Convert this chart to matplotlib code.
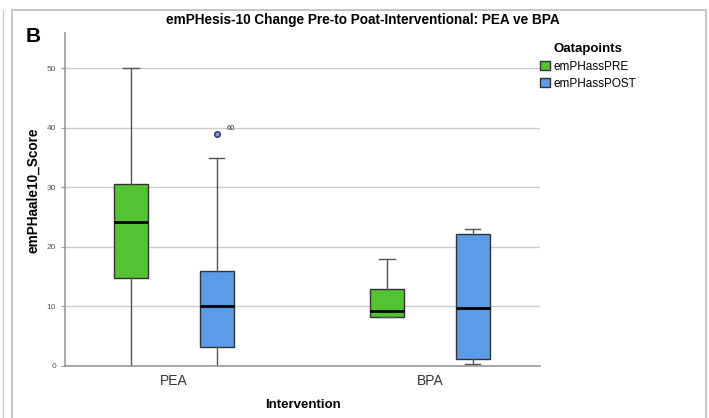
import matplotlib
matplotlib.use('Agg')
import matplotlib.pyplot as plt
from matplotlib.patches import Patch, Rectangle
from matplotlib.lines import Line2D

plt.rcParams['font.family'] = ['Liberation Sans', 'DejaVu Sans']

groups = ['PEA', 'BPA']
series = ['emPHassPRE', 'emPHassPOST']
colors = ['#55c234', '#5b9be8']

# box stats: (whislo, q1, med, q3, whishi)
pea_pre = (0, 14.8, 24.2, 30.5, 50)
pea_post = (0, 3.2, 10, 16, 35)
bpa_pre = (8.2, 8.2, 9.2, 13, 18)
bpa_post = (0.3, 1.2, 9.7, 22.1, 23)
outliers = {('PEA', 'emPHassPOST'): [(39, '60')]}

boxes = {('PEA', 'emPHassPRE'): pea_pre, ('PEA', 'emPHassPOST'): pea_post,
         ('BPA', 'emPHassPRE'): bpa_pre, ('BPA', 'emPHassPOST'): bpa_post}

fig = plt.figure(figsize=(7.09, 4.18), dpi=100)
ax = fig.add_axes([65/709, 1 - 366/418, 475/709, 333/418])

offsets = [-0.167, 0.167]
for gi, g in enumerate(groups):
    for si, s in enumerate(series):
        lo, q1, med, q3, hi = boxes[(g, s)]
        fl = [v for v, _ in outliers.get((g, s), [])]
        st = dict(whislo=lo, q1=q1, med=med, q3=q3, whishi=hi, fliers=fl)
        pos = gi + offsets[si]
        ax.bxp([st], positions=[pos], widths=0.133, capwidths=0.06, patch_artist=True,
               boxprops=dict(facecolor=colors[si], edgecolor='#333333', linewidth=1),
               medianprops=dict(color='black', linewidth=2),
               whiskerprops=dict(color='#555555', linewidth=1),
               capprops=dict(color='#555555', linewidth=1),
               flierprops=dict(marker='o', markersize=4, markerfacecolor='#8899cc',
                               markeredgecolor='#223377'))
        for v, lab in outliers.get((g, s), []):
            ax.annotate(lab, (pos, v), xytext=(7, 3), textcoords='offset points',
                        fontsize=5.5, color='#333333')

ax.set_xlim(-0.425, 1.43)
ax.set_ylim(0, 55.9)
ax.set_xticks([0, 1])
ax.set_xticklabels(groups, fontsize=10, color='#333333')
ax.set_yticks([0, 10, 20, 30, 40, 50])
ax.tick_params(axis='y', labelsize=6, labelcolor='#555555', length=3, color='#999999')
ax.tick_params(axis='x', length=0, pad=6)
ax.yaxis.grid(True, color='#cccccc', linewidth=1)
ax.set_axisbelow(True)
for sp in ['top', 'right']:
    ax.spines[sp].set_visible(False)
for sp in ['left', 'bottom']:
    ax.spines[sp].set_color('#999999')
    ax.spines[sp].set_linewidth(1.2)

ax.set_ylabel('emPHaale10_Score', fontsize=9.8, fontweight='bold')
ax.yaxis.set_label_coords(-25/475, (366 - 190)/333)
ax.set_xlabel('Intervention', fontsize=9.5, fontweight='bold')
ax.xaxis.set_label_coords((303 - 65)/475, -33/333)

fig.text(363/709, 1 - 20/418, 'emPHesis-10 Change Pre-to Poat-Interventional: PEA ve BPA',
         ha='center', va='center', fontsize=9.8, fontweight='bold')
fig.text(26/709, 1 - 36/418, 'B', ha='left', va='center', fontsize=15, fontweight='bold')

handles = [Patch(facecolor=colors[i], edgecolor='#333333', label=series[i]) for i in range(2)]
leg = fig.legend(handles=handles, loc='upper left', bbox_to_anchor=(538/709, 1 - 41/418),
                 frameon=False, fontsize=8.5, title='Oatapoints',
                 title_fontproperties={'weight': 'bold', 'size': 9.5},
                 handlelength=0.8, handleheight=0.8, handletextpad=0.3,
                 labelspacing=0.45, borderaxespad=0, borderpad=0.2)

# outer panel frame
fig.patches.append(Rectangle((12/709, -0.05), (706-12)/709, 1.05 - 10/418,
                             transform=fig.transFigure, fill=False,
                             edgecolor='#bbbbbb', linewidth=1.2))
fig.lines.append(Line2D([3/709, 3/709], [0, 1 - 10/418], transform=fig.transFigure,
                        color='#cccccc', linewidth=1))

plt.savefig('out.png', dpi=100)
